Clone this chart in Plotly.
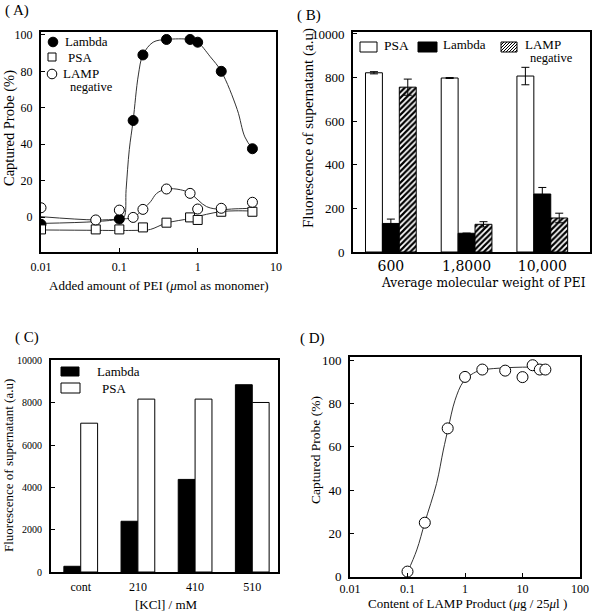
import plotly.graph_objects as go

# ---------------- Panel A data ----------------
a_lambda_x = [0.01, 0.1, 0.15, 0.2, 0.4, 0.8, 1, 2, 5]
a_lambda_y = [-4.0, -1.1, 53, 89, 97.5, 97.5, 96, 80, 37.5]
a_psa_x = [0.01, 0.05, 0.1, 0.2, 0.4, 0.8, 1, 2, 5]
a_psa_y = [-6.8, -6.8, -6.8, -5.7, -3.1, -0.2, -1.6, 2.9, 2.9]
a_lamp_x = [0.01, 0.05, 0.1, 0.15, 0.2, 0.4, 0.8, 1, 2, 5]
a_lamp_y = [5.1, -1.6, 3.8, -0.2, 4.2, 15.4, 13, 4.4, 4.8, 8.1]
# fitted curves as drawn in panel A
a_lambda_fit_x = [0.01, 0.05, 0.1, 0.115, 0.122, 0.134, 0.15, 0.175, 0.2, 0.27, 0.4, 0.8, 1, 1.45, 2, 3.2, 4, 5]
a_lambda_fit_y = [-3.5, -2.5, -1.1, 0, 15, 37, 53, 78, 89, 96, 97.5, 97.5, 96, 88, 80, 59, 44, 37.5]
a_psa_fit_x = [0.01, 0.05, 0.1, 0.2, 0.25, 0.4, 0.8, 1.3, 2, 3, 5]
a_psa_fit_y = [-7.1, -7.3, -7.4, -7.2, -6.8, -3.3, -0.8, 1.5, 3, 3.4, 3.3]
a_lamp_fit_x = [0.01, 0.05, 0.1, 0.15, 0.2, 0.25, 0.3, 0.4, 0.6, 0.8, 1.3, 2, 3, 5]
a_lamp_fit_y = [0.2, -1.6, -1.1, -0.2, 4.2, 8.4, 13, 15.4, 15, 13, 5.7, 4.2, 4.5, 4.8]

# ---------------- Panel B data ----------------
b_categories = ["600", "1,8000", "10,000"]
b_psa = [822, 798, 807]
b_psa_err = [5, 2, 40]
b_lambda = [131, 86, 266]
b_lambda_err = [20, 0, 30]
b_lamp = [756, 127, 156]
b_lamp_err = [37, 12, 22]
b_ytickvals = [0, 200, 400, 600, 800, 1000]
b_yticktext = ["0", "200", "400", "600", "800", "10000"]

# ---------------- Panel C data ----------------
c_categories = ["cont", "210", "410", "510"]
c_lambda = [270, 2400, 4380, 8860]
c_psa = [7040, 8180, 8180, 8020]
c_ytickvals = [0, 2000, 4000, 6000, 8000, 10000]
c_yticktext = ["0", "2000", "4000", "6000", "8000", "10000"]

# ---------------- Panel D data ----------------
d_x = [0.1, 0.2, 0.5, 1, 2, 5, 10, 15, 20, 25]
d_y = [2.3, 24.9, 68.5, 92.3, 95.7, 95.2, 92.2, 97.7, 95.7, 95.7]
d_fit_x = [0.1, 0.145, 0.2, 0.32, 0.42, 0.51, 0.67, 0.93, 1.4, 2, 5, 10, 20]
d_fit_y = [2, 12.3, 25, 43, 58.5, 68.5, 81.5, 90, 94, 95.5, 96.5, 96.8, 96.8]

W, H = 600, 612
SERIF = "Liberation Serif"
WIDE = "DejaVu Serif"


def px(x):
    return x / W


def py(y):
    return 1 - y / H


fig = go.Figure()
LINE = dict(color="#333333", width=1)

# ---- Panel A traces ----
for fx, fy in [(a_lambda_fit_x, a_lambda_fit_y), (a_psa_fit_x, a_psa_fit_y), (a_lamp_fit_x, a_lamp_fit_y)]:
    fig.add_trace(go.Scatter(x=fx, y=fy, mode="lines", line=dict(shape="spline", **LINE),
                             xaxis="x", yaxis="y", showlegend=False, hoverinfo="skip"))
fig.add_trace(go.Scatter(x=a_lambda_x, y=a_lambda_y, mode="markers", name="Lambda",
                         marker=dict(symbol="circle", size=10, color="black", line=dict(color="black", width=1)),
                         xaxis="x", yaxis="y", showlegend=False))
fig.add_trace(go.Scatter(x=a_psa_x, y=a_psa_y, mode="markers", name="PSA",
                         marker=dict(symbol="square", size=9, color="white", line=dict(color="black", width=1)),
                         xaxis="x", yaxis="y", showlegend=False))
fig.add_trace(go.Scatter(x=a_lamp_x, y=a_lamp_y, mode="markers", name="LAMP negative",
                         marker=dict(symbol="circle", size=10, color="white", line=dict(color="black", width=1)),
                         xaxis="x", yaxis="y", showlegend=False))

# ---- Panel B traces ----
ERR = dict(type="data", visible=True, color="black", thickness=1, width=4)
fig.add_trace(go.Bar(x=b_categories, y=b_psa, name="PSA", xaxis="x2", yaxis="y2",
                     marker=dict(color="white", line=dict(color="black", width=1)),
                     error_y=dict(array=b_psa_err, **ERR), showlegend=False))
fig.add_trace(go.Bar(x=b_categories, y=b_lambda, name="Lambda", xaxis="x2", yaxis="y2",
                     marker=dict(color="black", line=dict(color="black", width=1)),
                     error_y=dict(array=b_lambda_err, **ERR), showlegend=False))
fig.add_trace(go.Bar(x=b_categories, y=b_lamp, name="LAMP negative", xaxis="x2", yaxis="y2",
                     marker=dict(color="white", line=dict(color="black", width=1),
                                 pattern=dict(shape="/", fgcolor="black", bgcolor="white", size=4, solidity=0.55)),
                     error_y=dict(array=b_lamp_err, **ERR), showlegend=False))

# ---- Panel C traces ----
fig.add_trace(go.Bar(x=c_categories, y=c_lambda, name="Lambda", xaxis="x3", yaxis="y3", width=0.295, offset=-0.295,
                     marker=dict(color="black", line=dict(color="black", width=1)), showlegend=False))
fig.add_trace(go.Bar(x=c_categories, y=c_psa, name="PSA", xaxis="x3", yaxis="y3", width=0.295, offset=0.0,
                     marker=dict(color="white", line=dict(color="black", width=1)), showlegend=False))

# ---- Panel D traces ----
fig.add_trace(go.Scatter(x=d_fit_x, y=d_fit_y, mode="lines", line=dict(shape="spline", **LINE),
                         xaxis="x4", yaxis="y4", showlegend=False, hoverinfo="skip"))
fig.add_trace(go.Scatter(x=d_x, y=d_y, mode="markers", name="LAMP",
                         marker=dict(symbol="circle", size=11, color="white", line=dict(color="black", width=1)),
                         xaxis="x4", yaxis="y4", showlegend=False))


def ax(**kw):
    base = dict(showline=True, linewidth=2, linecolor="black", mirror=True, ticks="inside",
                ticklen=4, tickcolor="black", tickwidth=1, showgrid=False, zeroline=False,
                automargin=False)
    base.update(kw)
    return base


# domains (pixel boxes, in picture coordinates)
A = (41, 276, 32, 252)
B = (353, 590, 32, 252)
C = (51, 278, 360, 572)
D = (350, 580, 357, 577)


def xd(b):
    return [px(b[0]), px(b[1])]


def yd(b):
    return [py(b[3]), py(b[2])]


fig.update_layout(
    template="none",
    width=W, height=H, margin=dict(l=0, r=0, t=0, b=0, autoexpand=False),
    paper_bgcolor="white", plot_bgcolor="white",
    font=dict(family=SERIF, color="black", size=12),
    barmode="group", showlegend=False,
    xaxis=ax(domain=xd(A), anchor="y", type="log", range=[-2, 1],
             tickvals=[0.01, 0.1, 1, 10], ticktext=["0.01", "0.1", "1", "10"],
             tickfont=dict(size=12, family=SERIF), ticklabelstandoff=3),
    yaxis=ax(domain=yd(A), anchor="x", range=[-19.2, 101.6], ticklabelstandoff=4,
             tickvals=[0, 20, 40, 60, 80, 100], tickfont=dict(size=12, family=SERIF)),
    xaxis2=ax(domain=xd(B), anchor="y2", type="category", range=[-0.5, 2.63], ticks="",
              tickfont=dict(size=14, family=WIDE)),
    yaxis2=ax(domain=yd(B), anchor="x2", range=[0, 1009], tickvals=b_ytickvals, ticktext=b_yticktext,
              tickfont=dict(size=13, family=SERIF), ticklabelstandoff=4),
    xaxis3=ax(domain=xd(C), anchor="y3", type="category", range=[-0.52, 3.45], ticks="",
              tickfont=dict(size=12, family=SERIF), ticklabelstandoff=3),
    yaxis3=ax(domain=yd(C), anchor="x3", range=[0, 10030], tickvals=c_ytickvals, ticktext=c_yticktext,
              tickfont=dict(size=10, family=SERIF), ticklabelstandoff=5),
    xaxis4=ax(domain=xd(D), anchor="y4", type="log", range=[-2, 2],
              tickvals=[0.01, 0.1, 1, 10, 100], ticktext=["0.01", "0.1", "1", "10", "100"],
              tickfont=dict(size=12, family=SERIF)),
    yaxis4=ax(domain=yd(D), anchor="x4", range=[-0.2, 101.5], tickvals=[0, 20, 40, 60, 80, 100],
              tickfont=dict(size=13, family=SERIF), ticklabelstandoff=4),
    bargap=0.33, bargroupgap=0,
)

ann = []


def text(x, y, t, size=13, family=SERIF, xanchor="center", yanchor="middle", angle=0):
    ann.append(dict(x=px(x), y=py(y), xref="paper", yref="paper", text=t, showarrow=False,
                    font=dict(size=size, family=family, color="black"), xanchor=xanchor,
                    yanchor=yanchor, textangle=angle))


# panel labels
text(17, 10, "( A)", 15)
text(309, 15, "( B)", 15)
text(27, 337, "( C)", 15)
text(312, 338, "( D)", 15)

# axis titles
text(159, 285, "Added amount of PEI (<i>μ</i>mol as monomer)", 13)
text(9, 128, "Captured Probe (%)", 14.5, angle=-90)
text(379, 283, "Average molecular weight of PEI", 12.2, family=WIDE, xanchor="left")
text(308, 128, "Fluorescence of supernatant (a.u)", 15, angle=-90)
text(166, 604, "[KCl] / mM", 13)
text(8, 466, "Fluorescence of supernatant (a.u)", 13, angle=-90)
text(467, 603, "Content of LAMP Product (<i>μ</i>g / 25<i>μ</i>l )", 13)
text(315, 450, "Captured Probe (%)", 13.5, angle=-90)

# legend texts
text(63, 42, "Lambda", 13, xanchor="left")
text(66, 57, "PSA", 13, xanchor="left")
text(61, 73, "LAMP", 13, xanchor="left")
text(68, 87, "negative", 12.5, xanchor="left")

text(382, 46, "PSA", 13.5, xanchor="left")
text(441, 45, "Lambda", 13, xanchor="left")
text(523, 45, "LAMP", 13, xanchor="left")
text(575, 58, "negative", 12.5, xanchor="right")

text(95, 371, "Lambda", 13, xanchor="left")
text(100, 388, "PSA", 13, xanchor="left")

shapes = []


def rect(x0, y0, x1, y1, fill):
    shapes.append(dict(type="rect", xref="paper", yref="paper", x0=px(x0), x1=px(x1), y0=py(y1), y1=py(y0),
                       line=dict(color="black", width=1), fillcolor=fill))


def circ(cx, cy, r, fill):
    shapes.append(dict(type="circle", xref="paper", yref="paper", x0=px(cx - r), x1=px(cx + r),
                       y0=py(cy + r), y1=py(cy - r), line=dict(color="black", width=1), fillcolor=fill))


# legend A symbols
circ(53, 42, 4.8, "black")
rect(48, 53, 56, 61, "white")
circ(52, 74, 4.8, "white")

# legend B symbols
rect(360, 42, 377, 52, "white")
rect(418, 42, 437, 52, "black")
rect(501, 42, 517, 52, "white")
# hatch inside LAMP legend box
x0b, x1b, y0b, y1b = 501, 517, 42, 52
hh = y1b - y0b
k = x0b - hh
while k < x1b:
    sx, sy = k, y1b
    ex, ey = k + hh, y0b
    if sx < x0b:
        sy = y1b - (x0b - sx)
        sx = x0b
    if ex > x1b:
        ey = y0b + (ex - x1b)
        ex = x1b
    if ex > sx:
        shapes.append(dict(type="line", xref="paper", yref="paper", x0=px(sx), y0=py(sy), x1=px(ex), y1=py(ey),
                           line=dict(color="black", width=1)))
    k += 3

# legend C symbols
rect(61, 367, 79, 376, "black")
rect(61, 383, 80, 393, "white")

fig.update_layout(annotations=ann, shapes=shapes)

# remove the default page margin so the figure sits at the window's top-left corner
fig.write_html("out.html",
               config={"displayModeBar": False},
               post_script="document.body.style.margin='0px'; document.body.style.overflow='hidden';")
